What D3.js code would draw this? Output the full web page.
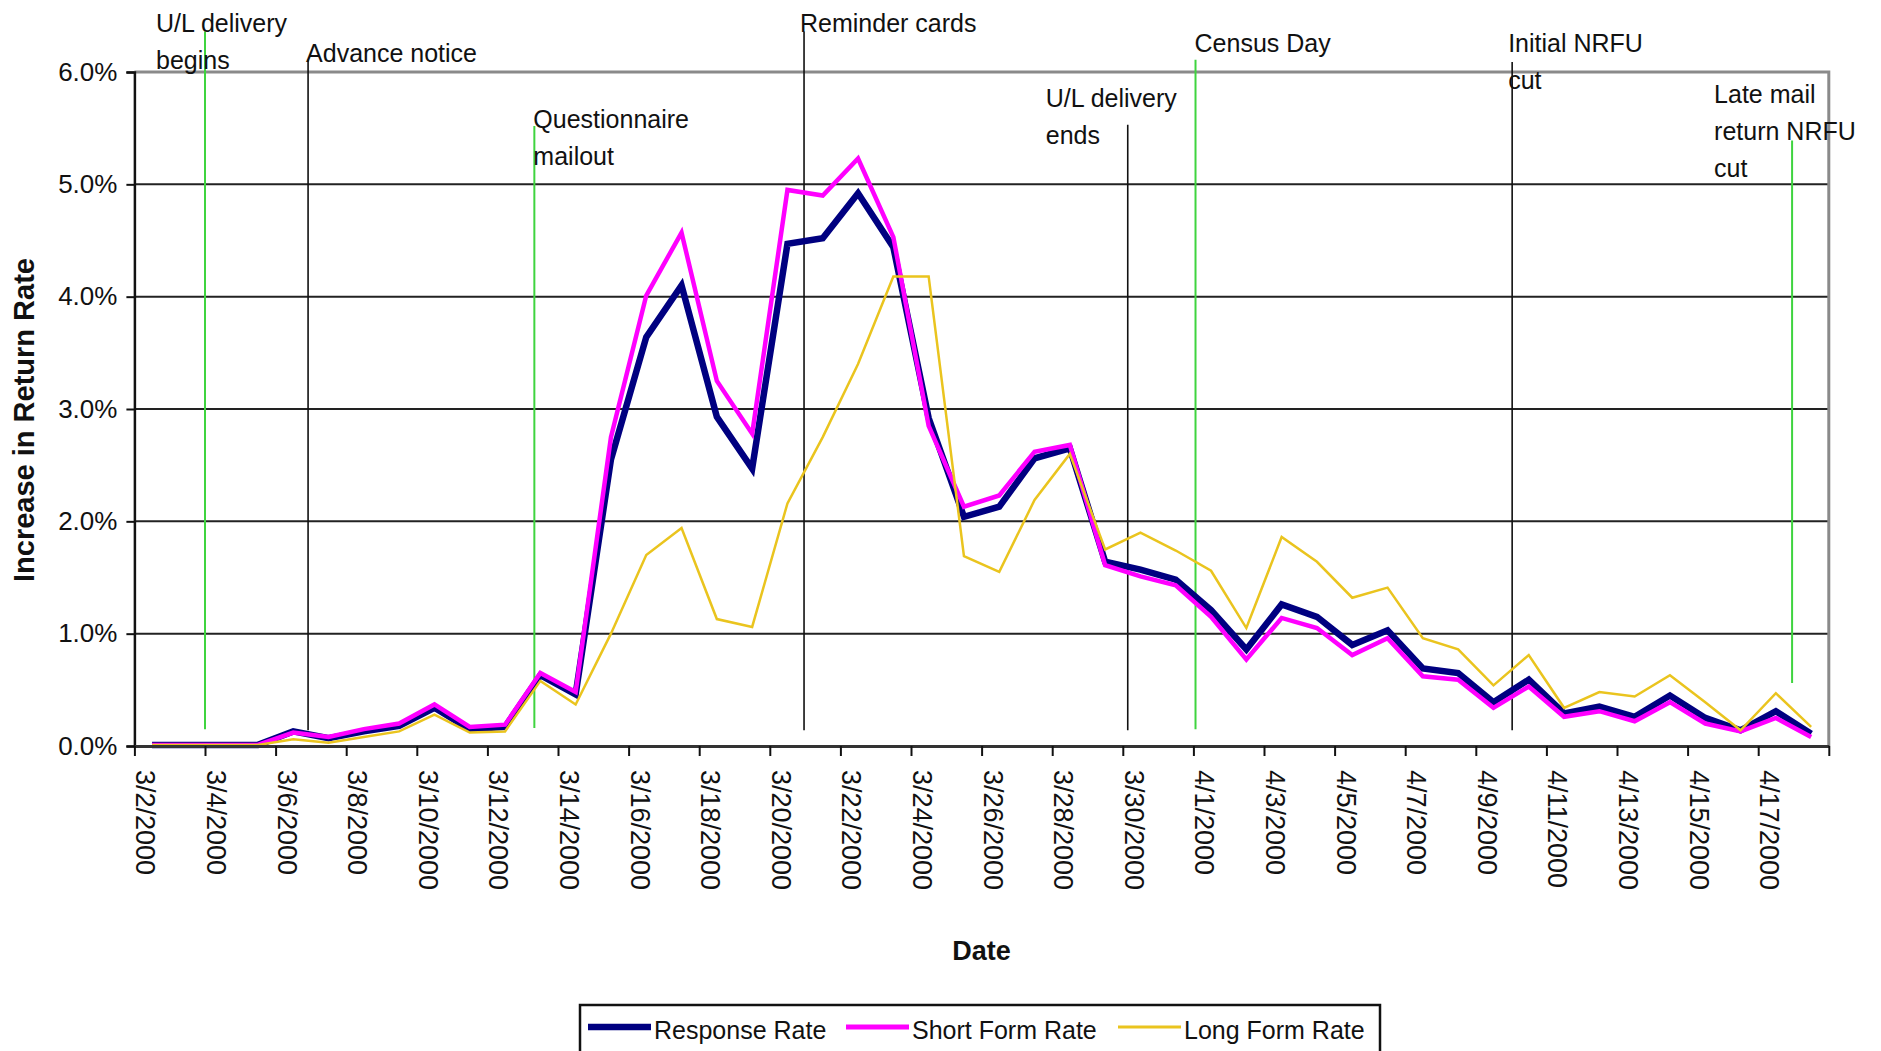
<!DOCTYPE html>
<html>
<head>
<meta charset="utf-8">
<script src="https://cdn.jsdelivr.net/npm/d3@7"></script>
<style>
  html, body { margin: 0; padding: 0; background: #ffffff; }
  svg { display: block; font-family: "Liberation Sans", Arial, sans-serif; }
</style>
</head>
<body>
<svg id="chart" width="1881" height="1051"></svg>
<script>
// ---------------- DATA ----------------
const dates = [
  "3/2/2000","3/3/2000","3/4/2000","3/5/2000","3/6/2000","3/7/2000","3/8/2000","3/9/2000",
  "3/10/2000","3/11/2000","3/12/2000","3/13/2000","3/14/2000","3/15/2000","3/16/2000","3/17/2000",
  "3/18/2000","3/19/2000","3/20/2000","3/21/2000","3/22/2000","3/23/2000","3/24/2000","3/25/2000",
  "3/26/2000","3/27/2000","3/28/2000","3/29/2000","3/30/2000","3/31/2000","4/1/2000","4/2/2000",
  "4/3/2000","4/4/2000","4/5/2000","4/6/2000","4/7/2000","4/8/2000","4/9/2000","4/10/2000",
  "4/11/2000","4/12/2000","4/13/2000","4/14/2000","4/15/2000","4/16/2000","4/17/2000","4/18/2000"
];
const responseRate = [
  0.01,0.01,0.01,0.01,0.13,0.07,0.13,0.18,
  0.34,0.15,0.17,0.63,0.46,2.55,3.64,4.10,
  2.93,2.47,4.47,4.52,4.92,4.44,2.92,2.04,
  2.13,2.56,2.65,1.64,1.57,1.48,1.21,0.86,
  1.26,1.15,0.90,1.03,0.69,0.65,0.39,0.59,
  0.29,0.35,0.26,0.45,0.25,0.14,0.31,0.11
];
const shortFormRate = [
  0.01,0.01,0.01,0.01,0.12,0.08,0.15,0.20,
  0.37,0.17,0.19,0.65,0.48,2.75,4.01,4.57,
  3.25,2.78,4.95,4.90,5.23,4.53,2.85,2.13,
  2.23,2.62,2.68,1.61,1.51,1.43,1.15,0.77,
  1.14,1.05,0.81,0.96,0.62,0.59,0.34,0.53,
  0.26,0.31,0.22,0.39,0.20,0.13,0.25,0.08
];
const longFormRate = [
  0.01,0.01,0.01,0.01,0.06,0.03,0.08,0.13,
  0.28,0.12,0.13,0.58,0.37,1.00,1.70,1.94,
  1.13,1.06,2.16,2.75,3.40,4.18,4.18,1.69,
  1.55,2.19,2.60,1.75,1.90,1.74,1.56,1.05,
  1.86,1.64,1.32,1.41,0.96,0.86,0.54,0.81,
  0.34,0.48,0.44,0.63,0.39,0.14,0.47,0.17
];
const seriesNames = ["Response Rate", "Short Form Rate", "Long Form Rate"];
const yTickValues = [0, 1, 2, 3, 4, 5, 6];
// Event annotations: label lines and the (fractional) date index where they occur
const eventLabels = [
  ["U/L delivery", "begins"],
  ["Advance notice"],
  ["Questionnaire", "mailout"],
  ["Reminder cards"],
  ["U/L delivery", "ends"],
  ["Census Day"],
  ["Initial NRFU", "cut"],
  ["Late mail", "return NRFU", "cut"]
];
const eventIndex = [1.5, 4.42, 10.83, 18.47, 27.64, 29.56, 38.53, 46.46];
const eventKind  = ["green", "black", "green", "black", "black", "green", "black", "green"];

// ---------------- LAYOUT / STYLE ----------------
const W = 1881, H = 1051;
const plot = { left: 134.4, right: 1828.8, top: 72, bottom: 746 };
const colors = { resp: "#000080", short: "#FF00FF", long: "#EAC41E", green: "#3FD43F", black: "#111111" };
// vertical extent (in y-value units) and label placement for each event
const eventLayout = [
  { top: 6.36, bottom: 0.15, dx: -49, y0: 32 },
  { top: 6.11, bottom: 0.14, dx: -2,  y0: 62 },
  { top: 5.52, bottom: 0.16, dx: -1,  y0: 128 },
  { top: 6.36, bottom: 0.14, dx: -4,  y0: 32 },
  { top: 5.53, bottom: 0.14, dx: -82, y0: 107 },
  { top: 6.11, bottom: 0.15, dx: -1,  y0: 52 },
  { top: 6.09, bottom: 0.14, dx: -4,  y0: 52 },
  { top: 5.39, bottom: 0.56, dx: -78, y0: 103 }
];
const lineGap = 37;

const svg = d3.select("#chart");
svg.append("rect").attr("width", W).attr("height", H).attr("fill", "#fff");

const x = d3.scaleLinear().domain([-0.5, dates.length - 0.5]).range([plot.left, plot.right]);
const y = d3.scaleLinear().domain([0, 6]).range([plot.bottom, plot.top]);

// plot background
svg.append("rect")
  .attr("x", plot.left).attr("y", plot.top)
  .attr("width", plot.right - plot.left).attr("height", plot.bottom - plot.top)
  .attr("fill", "#fff");

// gridlines
svg.append("g")
  .selectAll("line")
  .data(yTickValues.filter(v => v > 0 && v < 6))
  .join("line")
  .attr("x1", plot.left).attr("x2", plot.right)
  .attr("y1", d => y(d)).attr("y2", d => y(d))
  .attr("stroke", "#222").attr("stroke-width", 2);

// frame top/right (gray)
svg.append("path")
  .attr("d", `M${plot.left},${y(6)}H${plot.right}V${plot.bottom}`)
  .attr("fill", "none").attr("stroke", "#8a8a8a").attr("stroke-width", 3);

// event lines
const evG = svg.append("g");
eventIndex.forEach((ei, k) => {
  const L = eventLayout[k];
  evG.append("line")
    .attr("x1", x(ei)).attr("x2", x(ei))
    .attr("y1", y(L.top)).attr("y2", y(L.bottom))
    .attr("stroke", colors[eventKind[k]])
    .attr("stroke-width", eventKind[k] === "green" ? 2 : 1.6);
});

// series lines
const idx = d3.range(dates.length);
const lineGen = vals => d3.line().x(i => x(i)).y(i => y(vals[i]))(idx);
svg.append("path").attr("d", lineGen(responseRate))
  .attr("fill", "none").attr("stroke", colors.resp).attr("stroke-width", 6.5)
  .attr("stroke-linejoin", "miter");
svg.append("path").attr("d", lineGen(shortFormRate))
  .attr("fill", "none").attr("stroke", colors.short).attr("stroke-width", 4.5)
  .attr("stroke-linejoin", "miter");
svg.append("path").attr("d", lineGen(longFormRate))
  .attr("fill", "none").attr("stroke", colors.long).attr("stroke-width", 2.5)
  .attr("stroke-linejoin", "miter");

// y axis
const yAxis = d3.axisLeft(y).tickValues(yTickValues)
  .tickFormat(d => d3.format(".1f")(d) + "%").tickSize(8).tickPadding(9);
const yG = svg.append("g").attr("transform", `translate(${plot.left},0)`).call(yAxis);
yG.select(".domain").attr("stroke", "#111").attr("stroke-width", 2.5);
yG.selectAll(".tick line").attr("stroke", "#111").attr("stroke-width", 2);
yG.selectAll(".tick text").attr("font-size", 26).attr("fill", "#111")
  .attr("font-family", "'Liberation Sans', Arial, sans-serif");

// x axis: tick marks at every 2nd category boundary
const boundaries = d3.range(-0.5, dates.length, 2);
const xTickAxis = d3.axisBottom(x).tickValues(boundaries).tickFormat("").tickSize(10).tickSizeOuter(0);
const xG = svg.append("g").attr("transform", `translate(0,${plot.bottom})`).call(xTickAxis);
xG.select(".domain").attr("stroke", "#333").attr("stroke-width", 3);
xG.selectAll(".tick line").attr("stroke", "#111").attr("stroke-width", 2);

// x labels at every 2nd category, rotated
const labelIdx = idx.filter(i => i % 2 === 0);
const xLabAxis = d3.axisBottom(x).tickValues(labelIdx).tickFormat(i => dates[i]).tickSize(0).tickPadding(0);
const xL = svg.append("g").attr("transform", `translate(0,${plot.bottom + 24})`).call(xLabAxis);
xL.select(".domain").remove();
xL.selectAll(".tick text")
  .attr("font-size", 27).attr("fill", "#111")
  .attr("font-family", "'Liberation Sans', Arial, sans-serif")
  .attr("text-anchor", "start")
  .attr("transform", "rotate(90)")
  .attr("x", 0).attr("y", 0).attr("dy", "0.6em");

// axis titles
svg.append("text")
  .attr("transform", `translate(34,420) rotate(-90)`)
  .attr("text-anchor", "middle")
  .attr("font-size", 29).attr("font-weight", "bold").attr("fill", "#111")
  .text("Increase in Return Rate");
svg.append("text")
  .attr("x", x(23.5)).attr("y", 960)
  .attr("text-anchor", "middle")
  .attr("font-size", 27).attr("font-weight", "bold").attr("fill", "#111")
  .text("Date");

// event labels
eventIndex.forEach((ei, k) => {
  const L = eventLayout[k];
  const t = svg.append("text")
    .attr("x", x(ei) + L.dx).attr("y", L.y0)
    .attr("font-size", 25).attr("fill", "#111");
  eventLabels[k].forEach((s, j) => {
    t.append("tspan").attr("x", x(ei) + L.dx).attr("y", L.y0 + j * lineGap).text(s);
  });
});

// legend
const lg = svg.append("g").attr("transform", "translate(580,1005)");
lg.append("rect").attr("x", 0).attr("y", 0).attr("width", 800).attr("height", 48)
  .attr("fill", "#fff").attr("stroke", "#111").attr("stroke-width", 2.5);
const legendItems = [
  { name: seriesNames[0], color: colors.resp, w: 6.5, x0: 8 },
  { name: seriesNames[1], color: colors.short, w: 5, x0: 266 },
  { name: seriesNames[2], color: colors.long, w: 3, x0: 538 }
];
legendItems.forEach(it => {
  lg.append("line").attr("x1", it.x0).attr("x2", it.x0 + 63).attr("y1", 22).attr("y2", 22)
    .attr("stroke", it.color).attr("stroke-width", it.w);
  lg.append("text").attr("x", it.x0 + 66).attr("y", 34)
    .attr("font-size", 25).attr("fill", "#111").text(it.name);
});
</script>
</body>
</html>
